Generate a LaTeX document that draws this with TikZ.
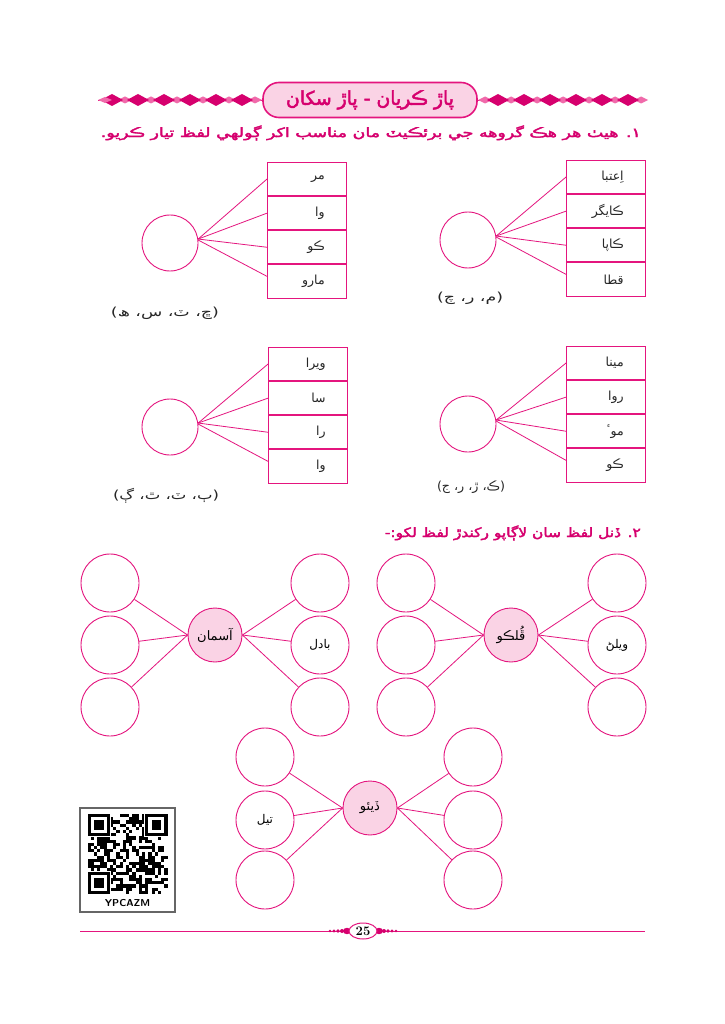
\documentclass[tikz,border=0pt]{standalone}
\usepackage{fontspec}
\usetikzlibrary{shapes.geometric}
\TeXXeTstate=1
\newfontfamily\ar[Script=Arabic]{DejaVu Sans}
\newfontfamily\arb[Script=Arabic,FakeBold=2.5]{DejaVu Sans}
\definecolor{mag}{HTML}{E4157E}
\definecolor{magd}{HTML}{D6006E}
\definecolor{pinkf}{HTML}{FAD3E5}
\definecolor{pinkl}{HTML}{F06AAA}
\newcommand{\AR}[1]{{\ar\beginR #1\endR}}
\newcommand{\ARB}[1]{{\arb\beginR #1\endR}}
\newcommand{\boxdiag}[9]{%
  \node[circ] (#1c) at (#4,#5) {};
  \node[cell, anchor=north west] (#1r1) at (#2,#3) {};
  \node[cell, anchor=north] (#1r2) at (#1r1.south) {};
  \node[cell, anchor=north] (#1r3) at (#1r2.south) {};
  \node[cell, anchor=north] (#1r4) at (#1r3.south) {};
  \node[celltxt] (#1t1) at ([xshift=-22pt]#1r1.east) {\AR{#6}};
  \node[celltxt] (#1t2) at ([xshift=-22pt]#1r2.east) {\AR{#7}};
  \node[celltxt] (#1t3) at ([xshift=-22pt]#1r3.east) {\AR{#8}};
  \node[celltxt] (#1t4) at ([xshift=-22pt]#1r4.east) {\AR{#9}};
  \draw[conn] (#1c.8) -- (#1r1.west);
  \draw[conn] (#1c.8) -- (#1r2.west);
  \draw[conn] (#1c.8) -- (#1r3.west);
  \draw[conn] ([yshift=-1pt]#1c.8) -- ([yshift=5pt]#1r4.west);
}
\begin{document}
\begin{tikzpicture}[x=1pt,y=-1pt,
  conn/.style={draw=mag, line width=0.8pt},
  circ/.style={circle, draw=mag, line width=0.9pt, minimum size=56pt, inner sep=0pt},
  ocirc/.style={circle, draw=mag, line width=0.9pt, minimum size=58pt, inner sep=0pt, font=\fontsize{12}{14}\selectfont},
  ccirc/.style={circle, draw=mag, fill=pinkf, line width=0.9pt, minimum size=54pt, inner sep=0pt, font=\fontsize{13}{15}\selectfont},
  cell/.style={rectangle, draw=mag, line width=0.9pt, minimum width=79pt, minimum height=33.2pt, inner sep=0pt},
  celltxt/.style={anchor=east, inner sep=0pt, font=\fontsize{12.5}{14}\selectfont, text=black!85},
  brk/.style={inner sep=0pt, font=\fontsize{12.5}{14}\selectfont, text=black!85},
  head/.style={inner sep=0pt, text=magd, font=\fontsize{13}{15}\selectfont},
  bigd/.style={fill=magd},
  smalld/.style={fill=pinkl}
]
\useasboundingbox (0,0) rectangle (724,1024);
\fill[white] (0,0) rectangle (724,1024);

% ---- header diamond chains
\draw[mag, line width=0.6pt] (98,100) -- (262,100);
\draw[mag, line width=0.6pt] (478,100) -- (642,100);
\foreach \x in {125,151,177,203,229,255, 485,511,537,563,589,615,641}
  \fill[smalld] (\x-7,100) -- (\x,96.5) -- (\x+7,100) -- (\x,103.5) -- cycle;
\foreach \x in {112,138,164,190,216,242, 498,524,550,576,602,628}
  \fill[bigd] (\x-11,100) -- (\x,94) -- (\x+11,100) -- (\x,106) -- cycle;
\fill[smalld] (98,100) -- (105,97) -- (112,100) -- (105,103) -- cycle;

% ---- title pill
\node[draw=mag, fill=pinkf, line width=1.6pt, rounded corners=16pt,
      minimum width=214pt, minimum height=35pt, inner sep=0pt] (title) at (370,100) {};
\node[inner sep=0pt, text=magd, font=\fontsize{19}{21}\selectfont] (titletxt) at (title.center) {\resizebox{168pt}{\height}{\ARB{پاڙ ڪريان - پاڙ سکان}}};

% ---- instruction 1
\node[head, anchor=east] (ins1) at (641,133) {\resizebox{540pt}{\height}{\ARB{١. هيٺ هر هڪ گروهه جي برئڪيٽ مان مناسب اکر ڳولهي لفظ تيار ڪريو.}}};

% ---- box diagrams
\boxdiag{a}{267}{162}{170}{243}{مر}{وا}{ڪو}{مارو}
\boxdiag{b}{566}{160}{468}{240}{اِعتبا}{ڪايگر}{ڪاپا}{قطا}
\boxdiag{c}{268}{347}{170}{427}{ويرا}{سا}{را}{وا}
\boxdiag{d}{566}{346}{468}{424}{مينا}{روا}{موٴ}{ڪو}

\node[brk] (bka) at (165,313) {\resizebox{108pt}{\height}{\AR{(ڇ، ٽ، س، ھ)}}};
\node[brk] (bkb) at (470,298) {\resizebox{66pt}{\height}{\AR{(م، ر، چ)}}};
\node[brk] (bkc) at (166,496) {\resizebox{106pt}{\height}{\AR{(ٻ، ٽ، ٿ، ڳ)}}};
\node[brk] (bkd) at (471,487) {\resizebox{68pt}{\height}{\AR{(ڪ، ڙ، ر، ج)}}};

% ---- instruction 2
\node[head, anchor=east] (ins2) at (641,533) {\resizebox{256pt}{\height}{\ARB{٢. ڏنل لفظ سان لاڳاپو رکندڙ لفظ لکو:-}}};

% ---- spider 1
\node[ccirc] (s1c) at (215,635) {\AR{آسمان}};
\node[ocirc] (s1l1) at (110,583) {};
\node[ocirc] (s1l2) at (110,645) {};
\node[ocirc] (s1l3) at (110,707) {};
\node[ocirc] (s1r1) at (320,583) {};
\node[ocirc] (s1r2) at (320,645) {\AR{بادل}};
\node[ocirc] (s1r3) at (320,707) {};
\foreach \n in {s1l1,s1l2,s1l3} \draw[conn] (s1c.west) -- (\n);
\foreach \n in {s1r1,s1r2,s1r3} \draw[conn] (s1c.east) -- (\n);

% ---- spider 2
\node[ccirc] (s2c) at (511,635) {\AR{ڦُلڪو}};
\node[ocirc] (s2l1) at (406,583) {};
\node[ocirc] (s2l2) at (406,645) {};
\node[ocirc] (s2l3) at (406,707) {};
\node[ocirc] (s2r1) at (617,583) {};
\node[ocirc] (s2r2) at (617,645) {\AR{ويلڻ}};
\node[ocirc] (s2r3) at (617,707) {};
\foreach \n in {s2l1,s2l2,s2l3} \draw[conn] (s2c.west) -- (\n);
\foreach \n in {s2r1,s2r2,s2r3} \draw[conn] (s2c.east) -- (\n);

% ---- spider 3
\node[ccirc] (s3c) at (370,808) {\AR{ڏيئو}};
\node[ocirc] (s3l1) at (265,757) {};
\node[ocirc] (s3l2) at (265,820) {\AR{تيل}};
\node[ocirc] (s3l3) at (265,880) {};
\node[ocirc] (s3r1) at (473,757) {};
\node[ocirc] (s3r2) at (473,820) {};
\node[ocirc] (s3r3) at (473,880) {};
\foreach \n in {s3l1,s3l2,s3l3} \draw[conn] (s3c.west) -- (\n);
\foreach \n in {s3r1,s3r2,s3r3} \draw[conn] (s3c.east) -- (\n);

% ---- QR code
\draw[black!60, line width=1.2pt] (80,808) rectangle (175,912);
\pgfmathsetseed{4711}
\foreach \i in {0,...,24}{\foreach \j in {0,...,24}{
  \pgfmathrandominteger{\qq}{0}{1}
  \ifnum\qq=1 \fill[black] (87.5+\i*3.2,814+\j*3.2) rectangle ++(3.2,3.2); \fi
}}
\foreach \ox/\oy in {87.5/814, 145.1/814, 87.5/871.6}{
  \fill[white] (\ox-1,\oy-1) rectangle ++(24.4,24.4);
  \fill[black] (\ox,\oy) rectangle ++(22.4,22.4);
  \fill[white] (\ox+3.2,\oy+3.2) rectangle ++(16,16);
  \fill[black] (\ox+6.4,\oy+6.4) rectangle ++(9.6,9.6);
}
\node[inner sep=0pt, font=\sffamily\bfseries\fontsize{10}{12}\selectfont] (qrtxt) at (127.5,903) {YPCAZM};

% ---- footer
\draw[mag, line width=0.7pt] (80,931) -- (645,931);
\foreach \x/\r in {330/1.4,334/1.6,338/1.8,342/2,388/1.8,392/1.6,396/1.4,384/2}
  \fill[magd] (\x,931) circle (\r);
\fill[magd] (347,931) ellipse (4 and 3.2);
\fill[magd] (379,931) ellipse (4 and 3.2);
\node[ellipse, draw=mag, fill=white, line width=1pt, minimum width=28pt, minimum height=16pt, inner sep=0pt] (pg) at (363,931) {};
\node[inner sep=0pt, font=\bfseries\fontsize{13}{14}\selectfont] (pgn) at (pg.center) {25};
\end{tikzpicture}
\end{document}
